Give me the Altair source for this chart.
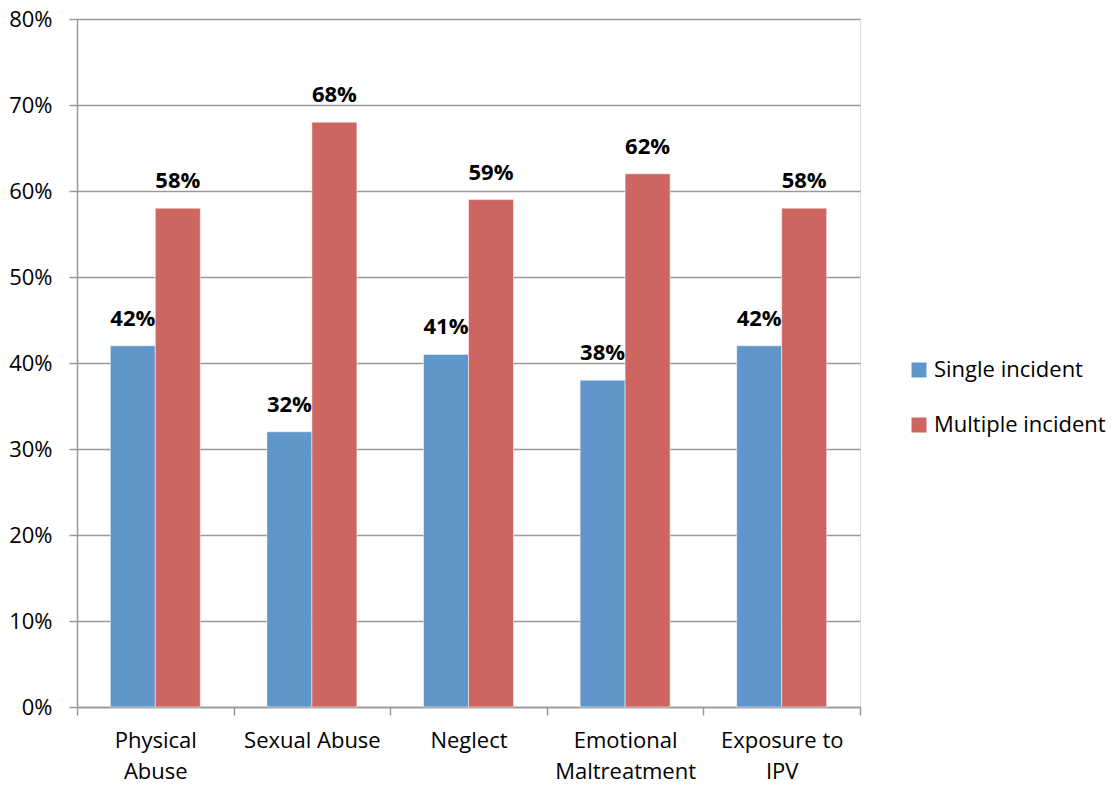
import altair as alt
import pandas as pd

categories = ["Physical Abuse", "Sexual Abuse", "Neglect", "Emotional Maltreatment", "Exposure to IPV"]
label_lines = [["Physical", "Abuse"], ["Sexual Abuse"], ["Neglect"], ["Emotional", "Maltreatment"], ["Exposure to", "IPV"]]
series = ["Single incident", "Multiple incident"]
single = [42, 32, 41, 38, 42]
multiple = [58, 68, 59, 62, 58]
y_ticks = [0, 0.1, 0.2, 0.3, 0.4, 0.5, 0.6, 0.7, 0.8]

rows = []
for c, s, m in zip(categories, single, multiple):
    rows.append({"category": c, "series": series[0], "value": s / 100})
    rows.append({"category": c, "series": series[1], "value": m / 100})
df = pd.DataFrame(rows)

expr_parts = []
for c, lines in zip(categories, label_lines):
    arr = "[" + ",".join("'" + l + "'" for l in lines) + "]"
    expr_parts.append(f"datum.label == '{c}' ? {arr} : ")
label_expr = "".join(expr_parts) + "datum.label"

FONT = "Open Sans"
FS = 23

x = alt.X("category:N", sort=categories, title=None,
          scale=alt.Scale(paddingInner=0, paddingOuter=0),
          axis=alt.Axis(labelAngle=0, labelExpr=label_expr, tickBand="extent",
                        labelFontSize=FS - 1, labelFont=FONT, labelColor="#000000",
                        labelPadding=15, labelLineHeight=31, labelBaseline="top",
                        domainColor="#999999", domainWidth=1.5,
                        tickColor="#999999", tickWidth=1.5, tickSize=8,
                        labelLimit=300))
y = alt.Y("value:Q", title=None,
          scale=alt.Scale(domain=[0, 0.8], nice=False),
          axis=alt.Axis(values=y_ticks, format=".0%", labelFontSize=FS - 1, labelFont=FONT,
                        labelColor="#000000", labelPadding=17,
                        domainColor="#999999", domainWidth=1.5,
                        tickColor="#999999", tickWidth=1.5, tickSize=8,
                        gridColor="#999999", gridWidth=1.5))
color = alt.Color("series:N", sort=series, title=None,
                  scale=alt.Scale(domain=series, range=["#6096C9", "#CD6661"]),
                  legend=alt.Legend(orient="none", legendX=831, legendY=340,
                                    symbolType="square", symbolSize=225,
                                    symbolStrokeWidth=0, labelFontSize=FS - 1, labelFont=FONT,
                                    labelColor="#000000", rowPadding=33, labelOffset=4,
                                    labelLimit=300))
xoff = alt.XOffset("series:N", sort=series, scale=alt.Scale(paddingInner=0, paddingOuter=0.74))

bars = alt.Chart(df).mark_bar(stroke="white", strokeWidth=0.5).encode(
    x=x, y=y, color=color, xOffset=xoff)
labels = alt.Chart(df).mark_text(dy=-20, baseline="alphabetic", fontWeight="bold",
                                  fontSize=FS - 1, font=FONT, color="#000000").encode(
    x=x, y=y, xOffset=xoff, text=alt.Text("value:Q", format=".0%"))

chart = alt.layer(bars, labels).properties(
    width=783, height=688,
    autosize=alt.AutoSizeParams(type="none"),
    padding={"left": 69, "top": 11, "right": 252, "bottom": 77},
).configure_view(stroke=None).configure(background="white")

chart.save("out.html", embed_options={"renderer": "svg", "actions": False})
